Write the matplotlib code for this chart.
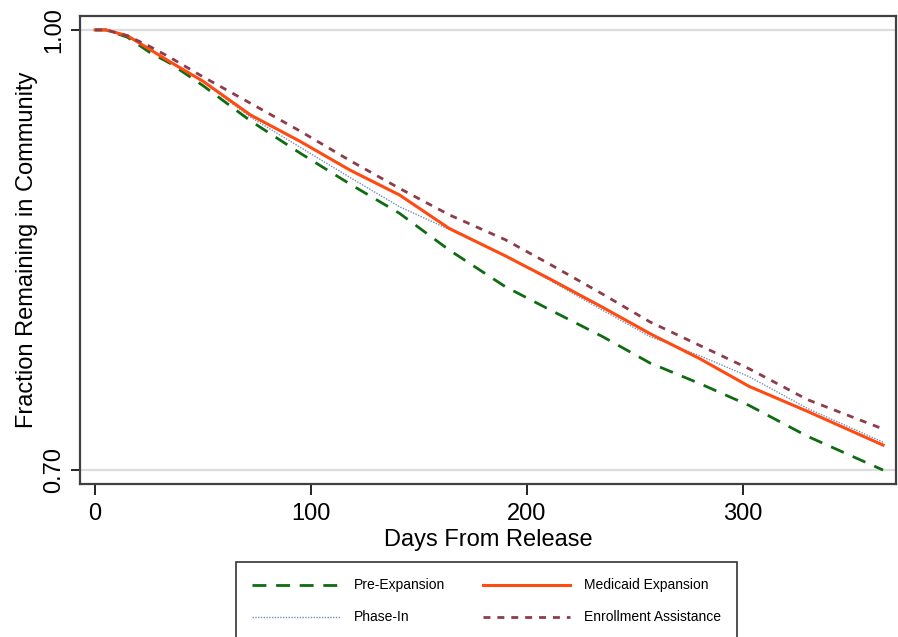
import matplotlib
matplotlib.use("Agg")
import matplotlib.pyplot as plt

days = [0, 5, 15, 25, 35, 50, 72, 95, 118, 141, 164, 190, 211, 235, 257, 280, 303, 330, 365]

pre_expansion = [1.0, 1.0, 0.995, 0.985, 0.977, 0.962, 0.938, 0.916, 0.895, 0.875, 0.850,
                 0.825, 0.809, 0.791, 0.773, 0.759, 0.744, 0.723, 0.700]
medicaid_expansion = [1.0, 1.0, 0.996, 0.987, 0.978, 0.965, 0.942, 0.924, 0.9045, 0.8875, 0.8647,
                      0.846, 0.830, 0.811, 0.793, 0.776, 0.757, 0.740, 0.717]
phase_in = [1.0, 1.0, 0.996, 0.987, 0.978, 0.9645, 0.9405, 0.920, 0.8995, 0.8795, 0.864,
            0.846, 0.829, 0.809, 0.791, 0.778, 0.7636, 0.742, 0.719]
enrollment_assist = [1.0, 1.0, 0.996, 0.989, 0.981, 0.968, 0.950, 0.931, 0.911, 0.892, 0.874,
                     0.857, 0.840, 0.820, 0.801, 0.785, 0.769, 0.748, 0.728]

x_ticks = [0, 100, 200, 300]
y_ticks = [0.70, 1.00]

plt.rcParams['font.family'] = ['Liberation Sans', 'DejaVu Sans']

fig = plt.figure(figsize=(8.98, 6.37), dpi=100, facecolor='white')
ax = fig.add_axes([0.0891, 0.2402, 0.9087, 0.7347])

# gridlines at the y ticks
for yv in y_ticks:
    ax.axhline(yv, color='#dcdcdc', lw=1.6, zorder=0)

ax.plot(days, pre_expansion, color='#0f6b12', lw=2.0, ls=(0, (5, 3.5)), label='Pre-Expansion')
ax.plot(days, phase_in, color='#7390b8', lw=1.0, ls=(0, (1, 1)), label='Phase-In')
ax.plot(days, medicaid_expansion, color='#ff4a12', lw=2.2, ls='-', label='Medicaid Expansion')
ax.plot(days, enrollment_assist, color='#8e3b4a', lw=2.0, ls=(0, (2.5, 2.5)), label='Enrollment Assistance')

ax.set_xlim(-7, 371)
ax.set_ylim(0.6905, 1.0095)
ax.set_xticks(x_ticks)
ax.set_yticks(y_ticks)
ax.set_yticklabels([f"{v:.2f}" for v in y_ticks], rotation=90, va='center')
ax.tick_params(axis='both', labelsize=17, direction='out', color='black', width=1.2)
ax.tick_params(axis='x', length=8, pad=5.5)
ax.tick_params(axis='y', length=6.5, pad=4)
ax.set_xlabel('Days From Release', fontsize=17, labelpad=3)
ax.set_ylabel('Fraction Remaining in Community', fontsize=17, labelpad=4)

for sp in ax.spines.values():
    sp.set_color('#404040')
    sp.set_linewidth(1.6)

# legend box runs off the bottom edge, as in the original
handles, labels = ax.get_legend_handles_labels()
leg = fig.legend(handles, labels, ncol=2, loc='upper center', bbox_to_anchor=(0.542, 0.128),
                 fontsize=10, frameon=True, fancybox=False, handlelength=6.3, handletextpad=1.0,
                 columnspacing=2.7, labelspacing=1.3, borderpad=1.15)
leg.get_frame().set_edgecolor('black')
leg.get_frame().set_linewidth(1.2)

fig.savefig('out.png', dpi=100, facecolor='white')
